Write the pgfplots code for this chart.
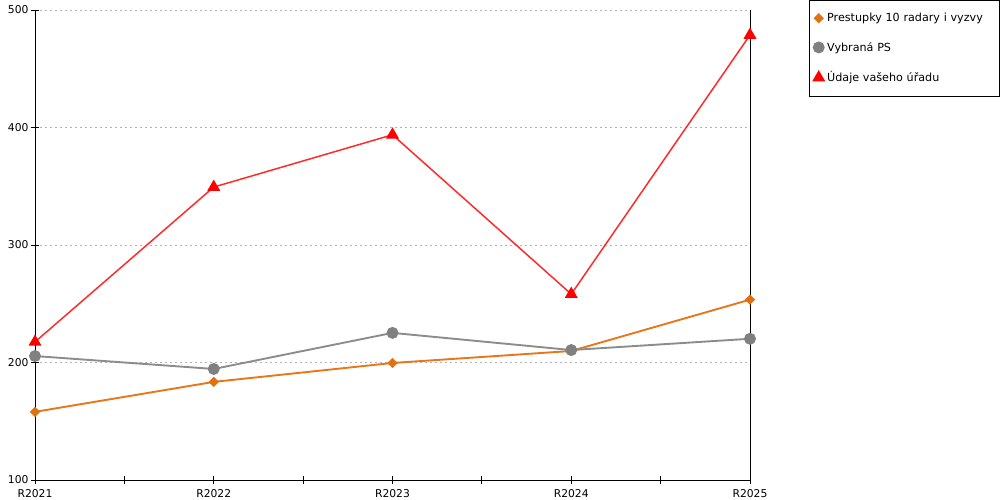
\documentclass[border=0pt]{standalone}
\usepackage{pgfplots}
\pgfplotsset{compat=1.18}
\usepackage{fontspec}
\setmainfont{DejaVu Sans}
\definecolor{cOr}{HTML}{E8761A}
\definecolor{cOrM}{HTML}{E07010}
\definecolor{cGr}{HTML}{8C8C8C}
\definecolor{cGrM}{HTML}{808080}
\definecolor{cRd}{HTML}{FF2A2A}
\definecolor{cRdM}{HTML}{FF0000}
\begin{document}
\begin{tikzpicture}
\useasboundingbox (0,0) rectangle (1000bp,500bp);
\begin{axis}[
  at={(35bp,20bp)}, anchor=south west,
  scale only axis, width=715bp, height=470bp,
  xmin=0, xmax=4, ymin=100, ymax=500,
  xtick={0,1,2,3,4},
  xticklabels={R2021,R2022,R2023,R2024,R2025},
  minor xtick={0.5,1.5,2.5,3.5},
  ytick={100,200,300,400,500},
  axis x line*=bottom, axis y line*=left,
  tick align=center,
  major tick length=8bp, minor tick length=8bp,
  every tick/.style={black, line width=0.8pt},
  minor tick style={black, line width=0.8pt},
  axis line style={black, line width=0.9pt, -},
  ymajorgrids,
  grid style={black!30, dash pattern=on 2bp off 3bp, line width=0.7pt},
  tick label style={font=\fontsize{10.8}{12}\selectfont},
  xticklabel style={yshift=-2bp},
  yticklabel style={xshift=1bp},
  /pgf/number format/assume math mode=true,
  clip=false,
  legend style={at={(1.0825,1.0213)}, anchor=north west, draw=black, line width=0.6pt,
    font=\fontsize{11.2}{12}\selectfont, inner xsep=3bp, inner ysep=11bp,
    row sep=15bp, text width=167bp,
    /tikz/every even column/.append style={column sep=3.5bp}},
  legend cell align=left,
  legend image code/.code={\draw[#1, draw opacity=0] (0bp,0bp) -- (11bp,0bp); \draw[#1, only marks] plot coordinates {(5.5bp,0bp)};},
]
\addplot[cOr, line width=1.9pt, mark=square*, mark size=3.5bp, mark options={rotate=45, fill=cOrM, draw=cOrM, line width=0.2pt}]
  coordinates {(0,158) (1,183.5) (2,199.6) (3,209.8) (4,253.5)};
\addlegendentry{Prestupky 10 radary i vyzvy}
\addplot[cGr, line width=1.9pt, mark=*, mark size=5bp, mark options={fill=cGrM, draw=cGrM}]
  coordinates {(0,205.5) (1,194.5) (2,225.2) (3,210.6) (4,220.2)};
\addlegendentry{Vybraná PS}
\addplot[cRd, line width=1.5pt, mark=triangle*, mark size=6bp, mark options={fill=cRdM, draw=cRdM}]
  coordinates {(0,217.5) (1,349.3) (2,393.8) (3,258.2) (4,478.7)};
\addlegendentry{Údaje vašeho úřadu}
\draw[black, line width=0.9pt] (rel axis cs:1,0) -- (rel axis cs:1,1);
\end{axis}
\end{tikzpicture}
\end{document}
